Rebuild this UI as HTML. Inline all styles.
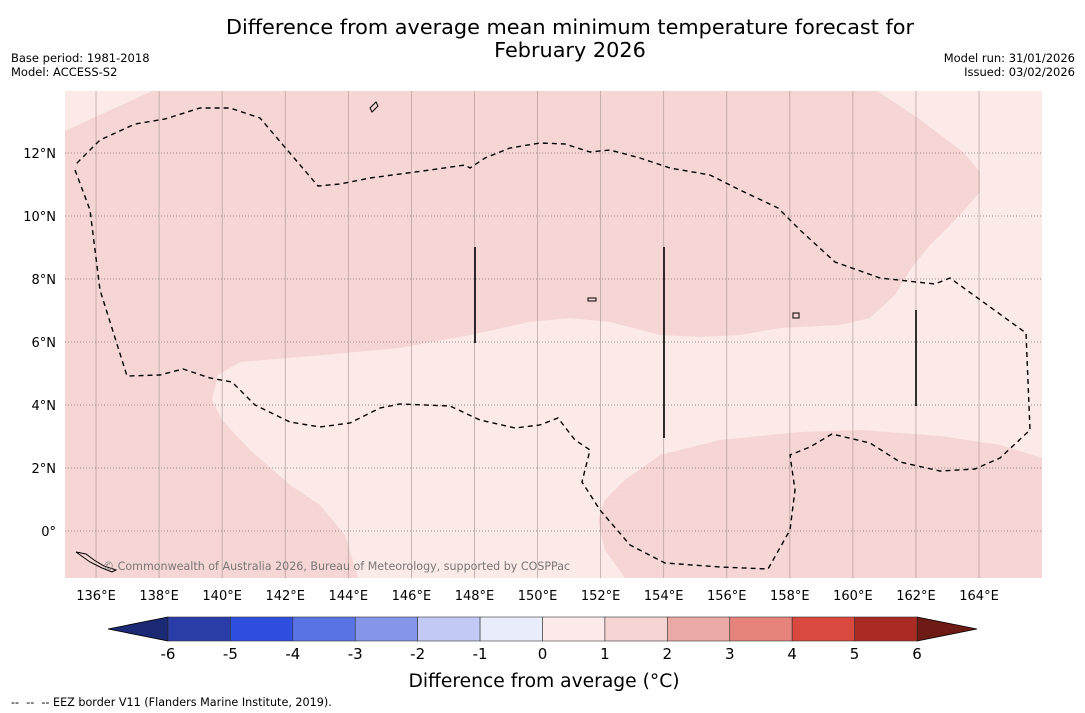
<!DOCTYPE html>
<html><head><meta charset="utf-8"><style>
body{margin:0;background:#fff;font-family:"Liberation Sans","DejaVu Sans",sans-serif}
svg{display:block}
</style></head><body>
<svg width="1085" height="713" xmlns="http://www.w3.org/2000/svg" font-family="DejaVu Sans, Liberation Sans, sans-serif">
<rect width="1085" height="713" fill="#fff"/>
<text x="570" y="34" font-size="20.8" text-anchor="middle">Difference from average mean minimum temperature forecast for</text>
<text x="570" y="57" font-size="20.8" text-anchor="middle">February 2026</text>
<text x="11" y="62" font-size="11.5">Base period: 1981-2018</text>
<text x="11" y="76" font-size="11.5">Model: ACCESS-S2</text>
<text x="1075" y="62" font-size="11.5" text-anchor="end">Model run: 31/01/2026</text>
<text x="1075" y="76" font-size="11.5" text-anchor="end">Issued: 03/02/2026</text>
<g>
<rect x="65" y="91" width="977" height="487" fill="#fbeae8"/>
<path fill="#f5d6d4" d="M65,131 L152,91 L877,91 L918,118 L963,152 L980,172 L980,192 L960,215 L930,245 L910,270 L895,295 L870,318 L840,325 L780,328 L740,335 L700,337 L660,335 L610,322 L570,318 L530,322 L470,335 L400,348 L300,357 L240,362 L218,375 L212,400 L222,420 L250,450 L290,485 L320,505 L345,535 L358,578 L65,578 Z"/>
<path fill="#f5d6d4" d="M598,520 L605,500 L625,480 L660,455 L720,440 L800,432 L860,430 L940,436 L1000,445 L1042,458 L1042,578 L625,578 L605,550 Z"/>
<g id="grid"></g>
<path fill="none" stroke="#000" stroke-width="1.4" stroke-dasharray="5,4" d="M75,170 L90,210 L100,290 L127,376 L160,375 L183,369 L210,378 L232,382 L255,405 L290,422 L320,427 L350,423 L380,408 L400,404 L450,406 L480,420 L515,428 L540,425 L558,418 L575,440 L590,450 L582,482 L600,510 L630,545 L665,563 L720,567 L768,569 L790,530 L795,490 L790,455 L810,447 L832,434 L870,443 L900,462 L940,471 L975,469 L1000,458 L1030,430 L1026,333 L950,278 L935,284 L880,278 L835,262 L800,230 L778,208 L740,190 L710,175 L670,168 L640,158 L610,150 L590,152 L565,144 L540,143 L510,148 L485,158 L470,168 L465,165 L430,170 L370,178 L340,184 L318,186 L260,118 L230,108 L200,108 L165,119 L135,124 L100,140 L75,165"/>
<g stroke="#000" stroke-width="1.6">
<line x1="475" y1="247" x2="475" y2="343"/><line x1="664" y1="247" x2="664" y2="438"/><line x1="916" y1="310" x2="916" y2="406"/></g>
<g fill="none" stroke="#000" stroke-width="1">
<path d="M370,108 l6,-6 2,4 -6,6z"/><path d="M588,298 l8,0 0,3 -8,0z"/><path d="M793,313 l6,0 0,5 -6,0z"/><path d="M76,552 l10,2 8,6 10,6 12,4 -4,2 -10,-4 -12,-6z"/>
</g>
<text x="103" y="570" font-size="11.1" fill="#777">© Commonwealth of Australia 2026, Bureau of Meteorology, supported by COSPPac</text>
</g>
<g id="axes"></g>
<g id="cbar"></g>
<text x="544" y="687" font-size="18.7" text-anchor="middle">Difference from average (°C)</text>
<text x="11" y="706" font-size="11.2" xml:space="preserve">--  --  -- EEZ border V11 (Flanders Marine Institute, 2019).</text>
</svg>
<script>
const lonTicks=[136,138,140,142,144,146,148,150,152,154,156,158,160,162,164];
const latTicks=[0,2,4,6,8,10,12];
const cbarLevels=[-6,-5,-4,-3,-2,-1,0,1,2,3,4,5,6];
const cbarColors=["#2a3ca8","#2f4fe0","#5a73e4","#8596ea","#c2c9f4","#e9ecfb","#fcebea","#f5d5d3","#eaa9a4","#e5837c","#d9493f","#aa2b24"];
const NS="http://www.w3.org/2000/svg";
const X0=65,X1=1042,Y0=91,Y1=578;
function xLon(l){return 64.5+(l-135)*(979-96)/28;}
function yLat(a){return 531-a*31.5;}
function cx(v){return 168+(v+6)*(917-168)/12;}
function mk(t,a,p){const e=document.createElementNS(NS,t);for(const k in a)e.setAttribute(k,a[k]);p.appendChild(e);return e;}
const grid=document.getElementById('grid'),axes=document.getElementById('axes'),cb=document.getElementById('cbar');
lonTicks.forEach(l=>{const x=xLon(l);
 const g=mk('line',{x1:x,x2:x,y1:Y0,y2:Y1,stroke:'#a08c8a','stroke-width':0.8,'stroke-opacity':0.7},grid);
 
 
 const t=mk('text',{x:x,y:600,'font-size':13,'text-anchor':'middle'},axes);t.textContent=l+'°E';
 
 });
latTicks.forEach(a=>{const y=yLat(a);
 const g=mk('line',{x1:X0,x2:X1,y1:y,y2:y,stroke:'#777','stroke-width':0.8,'stroke-dasharray':'1,2'},grid);
 
 
 const t=mk('text',{x:56,y:y+5,'font-size':13,'text-anchor':'end'},axes);t.textContent=a===0?'0°':a+'°N';
 
 });
const y0=617,y1=641;
const lt=mk('polygon',{points:`${cx(-6)},${y0} 108,${(y0+y1)/2} ${cx(-6)},${y1}`,fill:'#1c2a75',stroke:'#000','stroke-width':0.8},cb);


const rt=mk('polygon',{points:`${cx(6)},${y0} 977,${(y0+y1)/2} ${cx(6)},${y1}`,fill:'#6e1a15',stroke:'#000','stroke-width':0.8},cb);


cbarColors.forEach((c,i)=>{const a=cx(cbarLevels[i]),b=cx(cbarLevels[i+1]);
 const r=mk('rect',{x:a,y:y0,width:b-a,height:y1-y0,fill:c,stroke:'#333','stroke-width':0.6},cb);
 
 });
cbarLevels.forEach(v=>{const t=mk('text',{x:cx(v),y:659,'font-size':15,'text-anchor':'middle'},cb);t.textContent=v;
 
 });
</script>
</body></html>
